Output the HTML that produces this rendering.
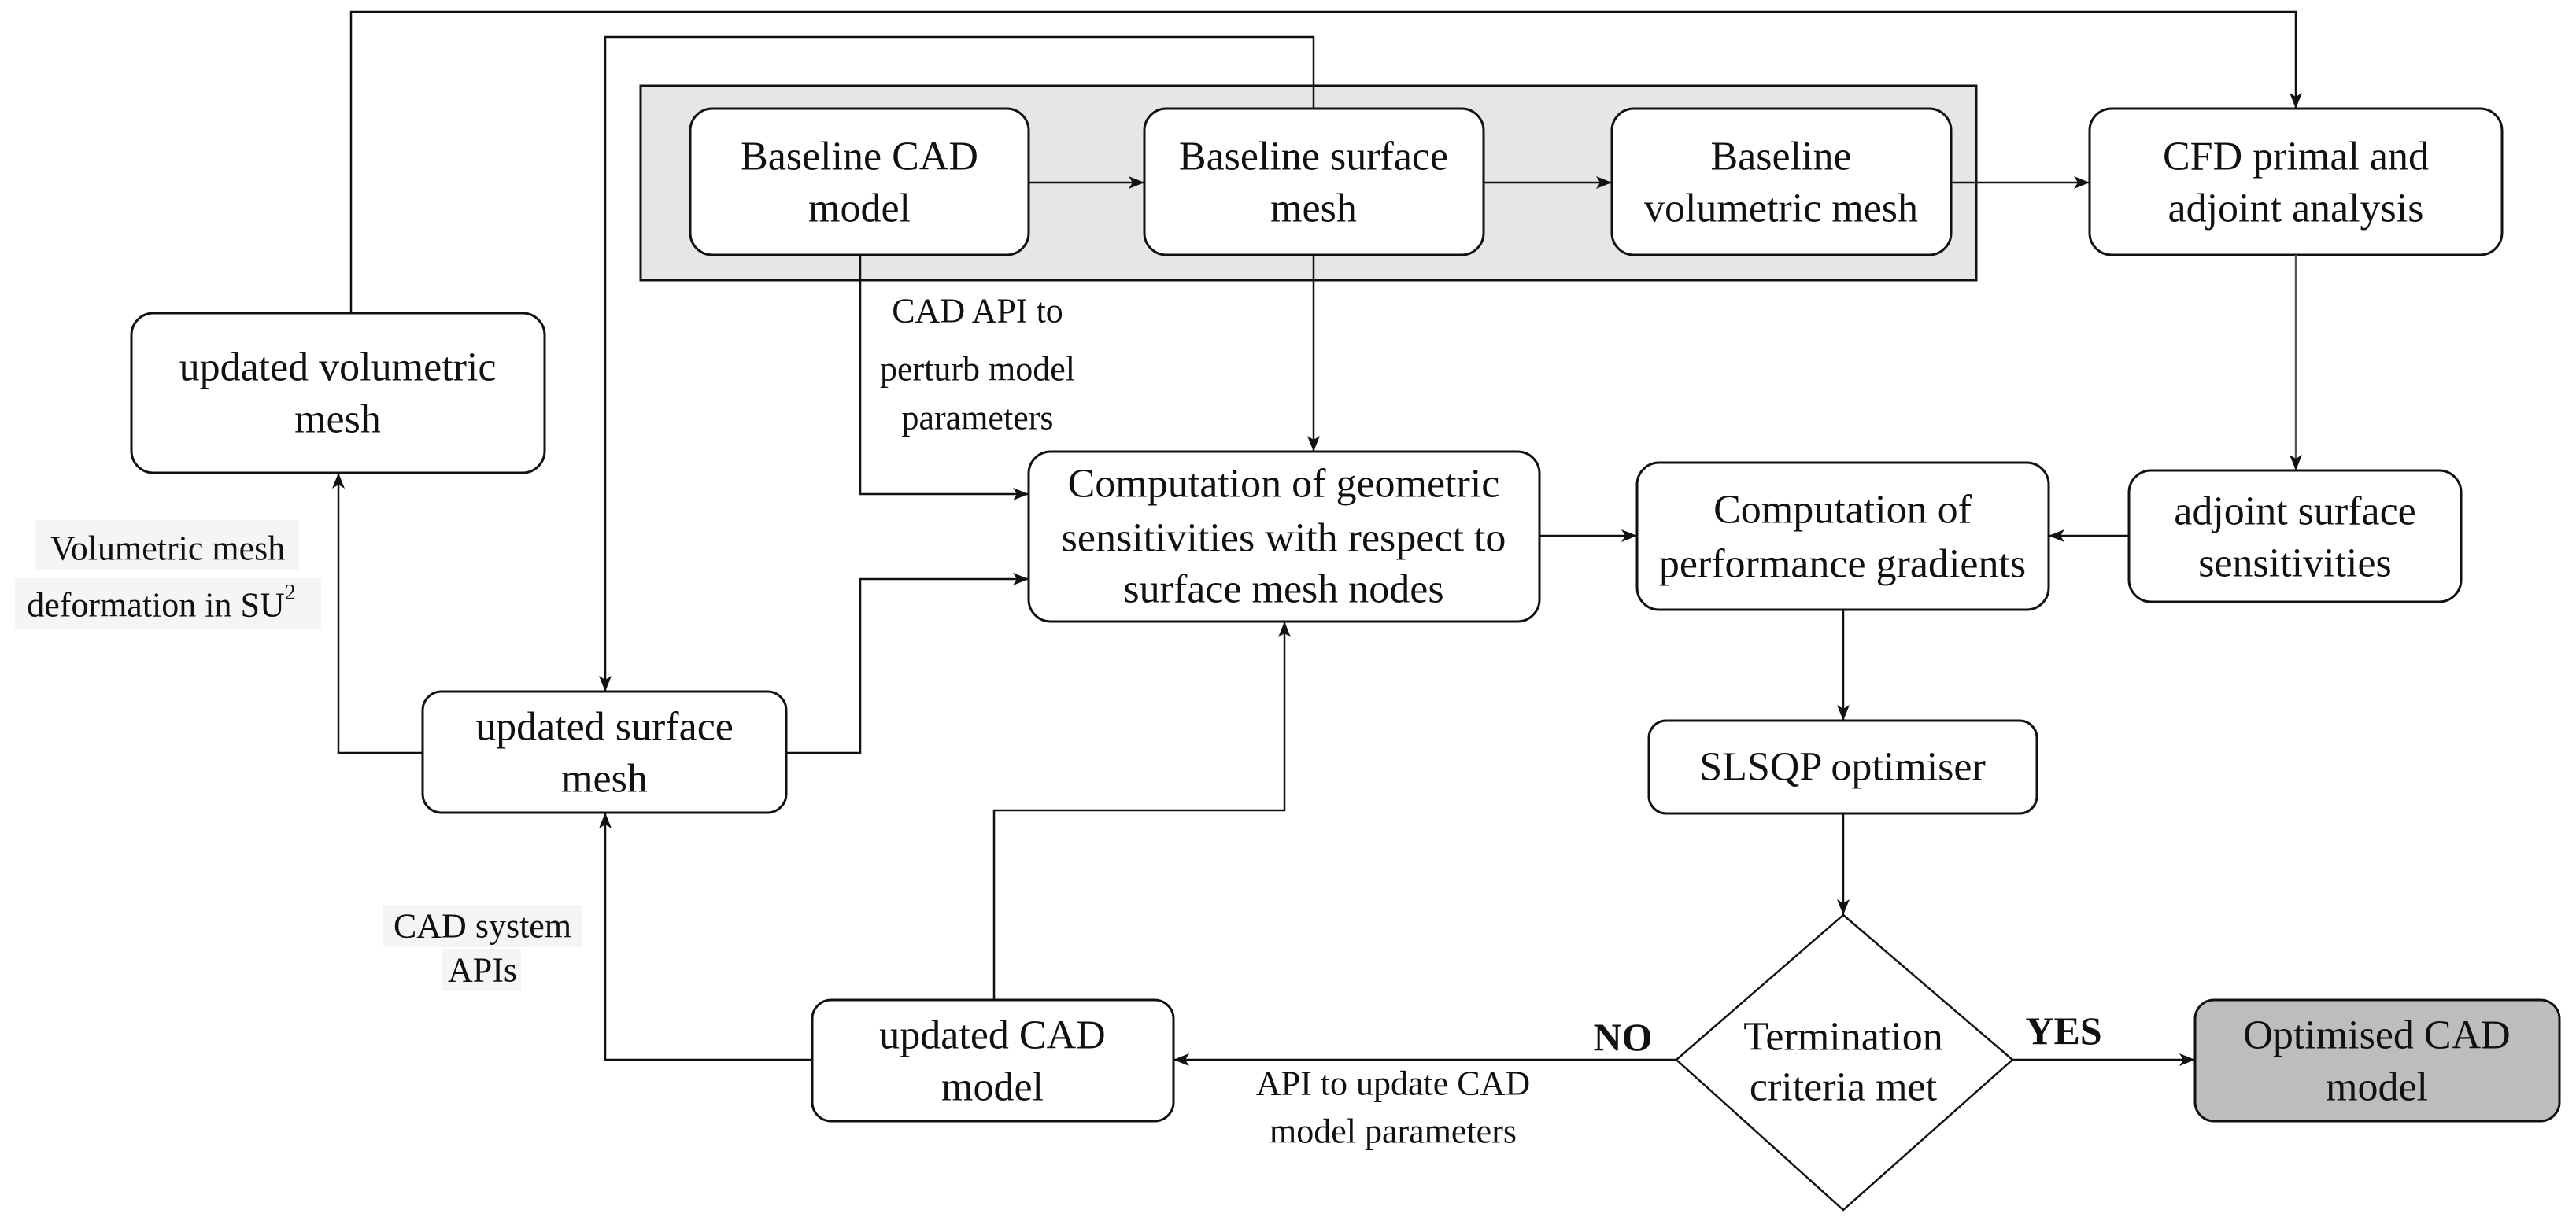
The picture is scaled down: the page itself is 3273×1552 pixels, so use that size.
<!DOCTYPE html>
<html><head><meta charset="utf-8"><style>
html,body{margin:0;padding:0;background:#fff}
svg{display:block}
</style></head><body>
<svg width="3273" height="1552" viewBox="0 0 3273 1552" xmlns="http://www.w3.org/2000/svg" font-family="'Liberation Serif', 'DejaVu Serif', serif">
<defs>
<marker id="a" viewBox="0 0 20 16" refX="20" refY="8" markerWidth="20" markerHeight="16" markerUnits="userSpaceOnUse" orient="auto">
<path d="M0,0 L20,8 L0,16 L5,8 Z" fill="#111"/>
</marker>
</defs>
<rect x="814" y="109" width="1697" height="247" fill="#e6e6e6" stroke="#111" stroke-width="3"/>
<g fill="#fff" stroke="#111" stroke-width="3">
<rect x="877" y="138" width="430" height="186" rx="28"/>
<rect x="1454" y="138" width="431" height="186" rx="28"/>
<rect x="2048" y="138" width="431" height="186" rx="28"/>
<rect x="2655" y="138" width="524" height="186" rx="28"/>
<rect x="167" y="398" width="525" height="203" rx="28"/>
<rect x="1307" y="574" width="649" height="216" rx="28"/>
<rect x="2080" y="588" width="523" height="187" rx="28"/>
<rect x="2705" y="598" width="422" height="167" rx="28"/>
<rect x="537" y="879" width="462" height="154" rx="24"/>
<rect x="2095" y="916" width="493" height="118" rx="22"/>
<rect x="1032" y="1271" width="459" height="154" rx="24"/>
<rect x="2789" y="1271" width="463" height="154" rx="24" fill="#bdbdbd"/>
<polygon points="2342,1163 2557,1347 2342,1538 2130,1347" stroke-width="2.5"/>
</g>
<rect x="45" y="661" width="335" height="64" fill="#f4f5f7"/>
<rect x="19" y="735" width="389" height="64" fill="#f4f5f7"/>
<rect x="487" y="1150" width="253" height="54" fill="#f4f5f7"/>
<rect x="562" y="1206" width="100" height="54" fill="#f4f5f7"/>
<g fill="none" stroke="#111" stroke-width="2.5">
<path d="M1307,232 H1454" marker-end="url(#a)"/>
<path d="M1885,232 H2048" marker-end="url(#a)"/>
<path d="M2479,232 H2655" marker-end="url(#a)"/>
<path d="M446,398 V15 H2917 V138" marker-end="url(#a)"/>
<path d="M1669,138 V47 H769 V879" marker-end="url(#a)"/>
<path d="M1669,324 V574" marker-end="url(#a)"/>
<path d="M2917,324 V598" stroke="#555" marker-end="url(#a)"/>
<path d="M1093,324 V628 H1307" marker-end="url(#a)"/>
<path d="M999,957 H1093 V736 H1307" marker-end="url(#a)"/>
<path d="M537,957 H430 V601" marker-end="url(#a)"/>
<path d="M1956,681 H2080" marker-end="url(#a)"/>
<path d="M2705,681 H2603" marker-end="url(#a)"/>
<path d="M2342,775 V916" marker-end="url(#a)"/>
<path d="M2342,1034 V1163" marker-end="url(#a)"/>
<path d="M2130,1347 H1491" marker-end="url(#a)"/>
<path d="M2557,1347 H2789" marker-end="url(#a)"/>
<path d="M1032,1347 H769 V1033" marker-end="url(#a)"/>
<path d="M1263,1271 V1030 H1632 V790" marker-end="url(#a)"/>
</g>
<g text-anchor="middle" dominant-baseline="central" font-family="'Liberation Serif', 'DejaVu Serif', serif" font-size="52" fill="#111">
<text x="1092" y="199">Baseline CAD</text><text x="1092" y="265">model</text>
<text x="1669" y="199">Baseline surface</text><text x="1669" y="265">mesh</text>
<text x="2263" y="199">Baseline</text><text x="2263" y="265">volumetric mesh</text>
<text x="2917" y="199">CFD primal and</text><text x="2917" y="265">adjoint analysis</text>
<text x="429" y="467">updated volumetric</text><text x="429" y="533">mesh</text>
<text x="1631" y="615">Computation of geometric</text><text x="1631" y="684">sensitivities with respect to</text><text x="1631" y="749">surface mesh nodes</text>
<text x="2341" y="648">Computation of</text><text x="2341" y="717">performance gradients</text>
<text x="2916" y="650">adjoint surface</text><text x="2916" y="716">sensitivities</text>
<text x="768" y="924">updated surface</text><text x="768" y="990">mesh</text>
<text x="2341" y="975">SLSQP optimiser</text>
<text x="1261" y="1316">updated CAD</text><text x="1261" y="1382">model</text>
<text x="2342" y="1318">Termination</text><text x="2342" y="1382">criteria met</text>
<text x="3020" y="1316">Optimised CAD</text><text x="3020" y="1382">model</text>
<g font-size="44">
<text x="1242" y="395">CAD API to</text>
<text x="1242" y="469">perturb model</text>
<text x="1242" y="531">parameters</text>
<text x="213" y="697">Volumetric mesh</text>
<text x="205" y="769">deformation in SU<tspan dy="-16" font-size="28">2</tspan></text>
<text x="613" y="1177">CAD system</text>
<text x="613" y="1233">APIs</text>
<text x="1770" y="1377">API to update CAD</text>
<text x="1770" y="1438">model parameters</text>
</g>
<text x="2062" y="1318" font-weight="bold" font-size="50">NO</text>
<text x="2622" y="1310" font-weight="bold" font-size="50">YES</text>
</g>
</svg>
</body></html>
